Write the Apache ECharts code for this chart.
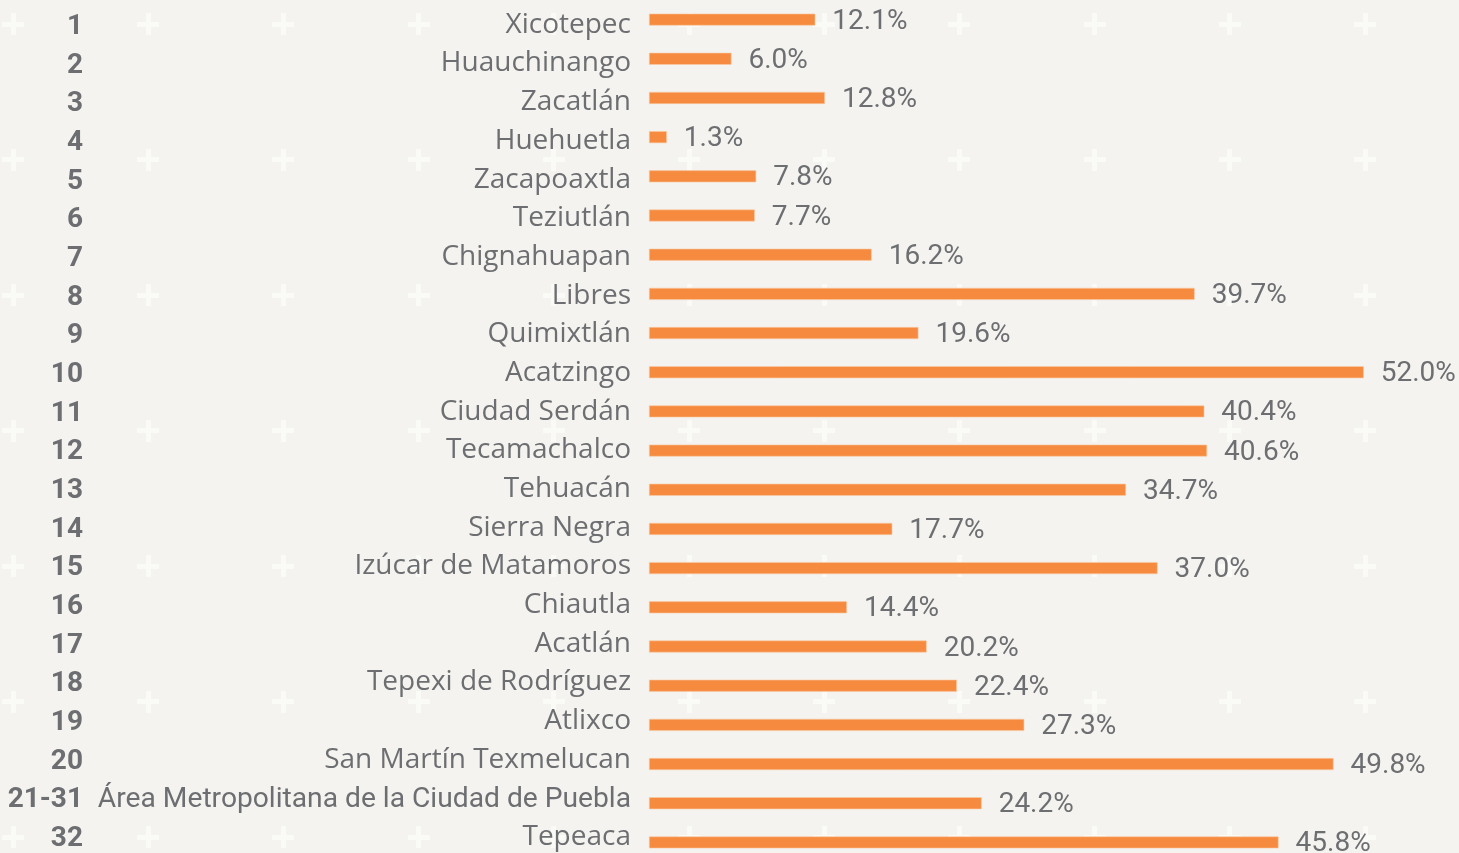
<!DOCTYPE html>
<html>
<head>
<meta charset="utf-8">
<script src="https://cdn.jsdelivr.net/npm/echarts@6/dist/echarts.min.js"></script>
<style>
  html, body { margin: 0; padding: 0; background: #f4f3ef; }
  body { width: 1459px; height: 853px; overflow: hidden; position: relative; }
  #bg { position: absolute; left: 0; top: 0; width: 1459px; height: 853px; }
  #chart { position: absolute; left: 0; top: 0; width: 1459px; height: 853px; }
</style>
</head>
<body>
<canvas id="bg" width="1459" height="853"></canvas>
<div id="chart"></div>
<script>
// Rank of each region, region names and the share (%) drawn as bars
const ranks = ['1', '2', '3', '4', '5', '6', '7', '8', '9', '10', '11', '12', '13', '14', '15', '16', '17', '18', '19', '20', '21-31', '32'];
const regions = ['Xicotepec', 'Huauchinango', 'Zacatlán', 'Huehuetla', 'Zacapoaxtla', 'Teziutlán', 'Chignahuapan', 'Libres', 'Quimixtlán', 'Acatzingo', 'Ciudad Serdán', 'Tecamachalco', 'Tehuacán', 'Sierra Negra', 'Izúcar de Matamoros', 'Chiautla', 'Acatlán', 'Tepexi de Rodríguez', 'Atlixco', 'San Martín Texmelucan', 'Área Metropolitana de la Ciudad de Puebla', 'Tepeaca'];
const values = [12.1, 6.0, 12.8, 1.3, 7.8, 7.7, 16.2, 39.7, 19.6, 52.0, 40.4, 40.6, 34.7, 17.7, 37.0, 14.4, 20.2, 22.4, 27.3, 49.8, 24.2, 45.8];

// Decorative plus grid in the page background
(function drawPluses() {
  const c = document.getElementById('bg');
  const ctx = c.getContext('2d');
  ctx.fillStyle = '#f4f3ef';
  ctx.fillRect(0, 0, c.width, c.height);
  ctx.fillStyle = '#fafaf7';
  for (let y = 24; y < 880; y += 135.5) {
    for (let x = 13; x < 1480; x += 135.2) {
      ctx.fillRect(Math.round(x - 11), Math.round(y - 2.5), 22, 5);
      ctx.fillRect(Math.round(x - 2.5), Math.round(y - 11), 5, 22);
    }
  }
})();

const grey = '#6d6e71';
const hidden = { axisLine: { show: false }, axisTick: { show: false }, splitLine: { show: false } };
const chart = echarts.init(document.getElementById('chart'), null, { renderer: 'canvas' });

chart.setOption({
  backgroundColor: 'transparent',
  animation: false,
  grid: [
    // bars
    { left: 649, top: 0, width: 756, height: 862, containLabel: false, outerBoundsMode: 'none' },
    // region names, set slightly tighter than the bar rows
    { left: 649, top: 4, width: 756, height: 851, containLabel: false, outerBoundsMode: 'none' },
    // rank numbers
    { left: 649, top: 7.5, width: 756, height: 851, containLabel: false, outerBoundsMode: 'none' }
  ],
  xAxis: [
    { type: 'value', min: 0, max: 55, show: false, gridIndex: 0 },
    { type: 'value', min: 0, max: 55, show: false, gridIndex: 1 },
    { type: 'value', min: 0, max: 55, show: false, gridIndex: 2 }
  ],
  yAxis: [
    {
      type: 'category', data: regions, inverse: true, gridIndex: 0,
      axisLabel: { show: false }, ...hidden
    },
    {
      type: 'category', data: regions, inverse: true, gridIndex: 1, ...hidden,
      axisLabel: {
        margin: 18,
        color: grey,
        fontFamily: 'Open Sans',
        fontSize: 28,
        padding: [3, 0, 0, 0],
        formatter: v => v.startsWith('Área') ? '{narrow|' + v + '}' : v,
        rich: { narrow: { fontFamily: 'Roboto', fontSize: 28.2, color: grey, padding: [3, 0, 0, 0] } }
      }
    },
    {
      type: 'category', data: ranks, inverse: true, gridIndex: 2, position: 'left', offset: 566, ...hidden,
      axisLabel: {
        margin: 0,
        color: grey,
        fontFamily: 'Roboto',
        fontWeight: 'bold',
        fontSize: 28,
        padding: [13, 0, 0, 0]
      }
    }
  ],
  series: [{
    type: 'bar',
    xAxisIndex: 0,
    yAxisIndex: 0,
    data: values,
    barWidth: 12,
    itemStyle: { color: '#f68b40', borderColor: '#f9c9a4', borderWidth: 0.6 },
    label: {
      show: true,
      position: 'right',
      distance: 17,
      offset: [0, 2],
      color: grey,
      fontFamily: 'Roboto',
      fontSize: 28,
      formatter: p => p.value.toFixed(1) + '%'
    }
  }]
});
</script>
</body>
</html>
